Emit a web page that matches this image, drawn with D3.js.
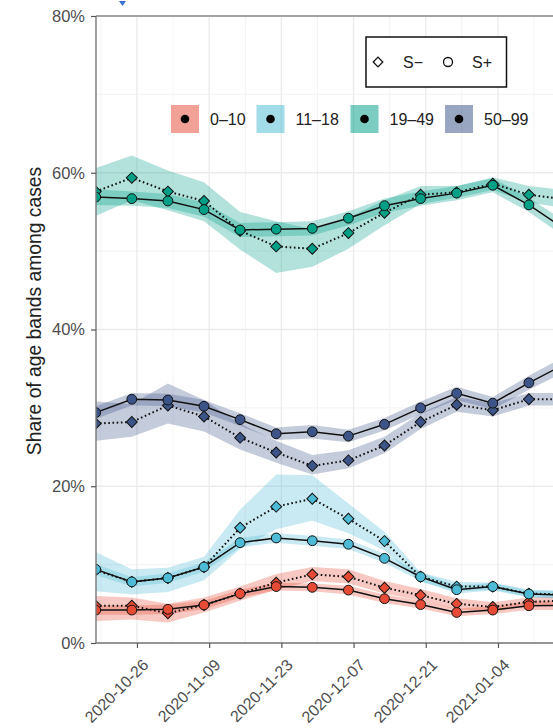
<!DOCTYPE html>
<html><head><meta charset="utf-8">
<script src="https://cdn.jsdelivr.net/npm/d3@7/dist/d3.min.js"></script>
<style>body{margin:0;background:#fff}svg{display:block;font-family:"Liberation Sans",Arial,Helvetica,sans-serif}</style>
</head><body><svg id="c" width="553" height="728"></svg>
<script>
const dates = ["2020-10-18","2020-10-25","2020-11-01","2020-11-08","2020-11-15","2020-11-22","2020-11-29","2020-12-06","2020-12-13","2020-12-20","2020-12-27","2021-01-03","2021-01-10","2021-01-17"];
const xTickLabels = ["2020-10-26","2020-11-09","2020-11-23","2020-12-07","2020-12-21","2021-01-04"];
const yTickValues = [0,20,40,60,80];
const ageBands = ["0–10","11–18","19–49","50–99"];
const bandColors = ["#E64B35","#4DBBD5","#00A087","#3C5488"];
const seroLabels = ["S−","S+"];

// 0-10
const red_sminus = [4.75,4.75,3.8,4.85,6.3,7.7,8.75,8.45,7.05,6.1,5.0,4.6,5.25,5.4];
const red_sminus_lo = [2.8,3.0,2.6,3.9,5.4,6.8,7.9,7.6,6.3,5.4,4.3,4.0,4.7,4.8];
const red_sminus_hi = [6.0,5.8,5.0,5.8,7.2,8.8,9.7,9.4,7.9,6.9,5.7,5.2,5.8,6.0];
const red_splus = [4.2,4.2,4.3,4.85,6.3,7.2,7.1,6.75,5.65,4.9,3.9,4.2,4.75,4.8];
const red_splus_lo = [3.6,3.6,3.7,4.3,5.8,6.7,6.6,6.2,5.1,4.4,3.4,3.7,4.2,4.2];
const red_splus_hi = [4.8,4.8,4.9,5.4,6.8,7.7,7.6,7.3,6.2,5.4,4.4,4.7,5.3,5.4];
// 11-18
const cyan_sminus = [9.3,7.8,8.3,9.7,14.7,17.4,18.4,15.85,13.0,8.45,7.2,7.2,6.3,6.2];
const cyan_sminus_lo = [6.6,6.2,6.5,8.0,12.0,14.5,15.6,14.0,11.8,7.8,6.6,6.8,5.9,5.7];
const cyan_sminus_hi = [11.6,9.4,9.6,11.0,17.0,21.5,21.4,17.8,14.2,9.0,7.8,7.7,6.8,6.7];
const cyan_splus = [9.4,7.8,8.3,9.7,12.8,13.4,13.05,12.6,10.8,8.45,6.8,7.2,6.25,6.1];
const cyan_splus_lo = [8.7,7.2,7.7,9.1,12.2,12.8,12.4,12.0,10.2,7.9,6.3,6.7,5.8,5.6];
const cyan_splus_hi = [10.1,8.4,8.9,10.3,13.4,14.0,13.7,13.2,11.4,9.0,7.3,7.7,6.7,6.6];
// 19-49
const teal_sminus = [57.6,59.35,57.6,56.4,52.6,50.6,50.3,52.3,54.9,57.2,57.5,58.6,57.2,56.6];
const teal_sminus_lo = [54.5,56.5,55.2,53.8,50.2,47.2,48.0,50.3,53.3,56.0,56.8,57.8,56.2,55.5];
const teal_sminus_hi = [60.6,62.2,60.3,58.8,55.0,53.8,52.8,54.3,56.5,58.3,58.3,59.4,58.3,57.8];
const teal_splus = [56.9,56.7,56.4,55.3,52.7,52.8,52.9,54.2,55.8,56.7,57.4,58.4,55.9,52.8];
const teal_splus_lo = [55.9,55.8,55.5,54.4,51.8,51.9,52.0,53.3,54.9,55.8,56.5,57.5,55.0,51.8];
const teal_splus_hi = [57.9,57.6,57.3,56.2,53.6,53.7,53.8,55.1,56.7,57.6,58.3,59.3,56.8,53.8];
// 50-99
const blue_sminus = [28.0,28.2,30.3,28.9,26.2,24.3,22.6,23.3,25.2,28.2,30.4,29.7,31.1,31.1];
const blue_sminus_lo = [25.8,26.3,28.0,27.0,24.7,23.0,21.5,22.3,24.2,27.3,29.5,28.9,30.3,30.3];
const blue_sminus_hi = [30.8,30.5,33.1,31.0,28.0,25.8,24.0,24.6,26.3,29.3,31.4,30.6,31.9,31.9];
const blue_splus = [29.4,31.1,31.0,30.2,28.5,26.7,26.95,26.4,27.9,30.0,31.85,30.6,33.2,35.6];
const blue_splus_lo = [28.6,30.3,30.2,29.4,27.7,25.9,26.1,25.6,27.1,29.2,31.0,29.8,32.3,34.6];
const blue_splus_hi = [30.2,31.9,31.8,31.0,29.3,27.5,27.8,27.2,28.7,30.8,32.7,31.4,34.1,36.6];

const groups = [
  {band:0, minus:[red_sminus,red_sminus_lo,red_sminus_hi], plus:[red_splus,red_splus_lo,red_splus_hi]},
  {band:1, minus:[cyan_sminus,cyan_sminus_lo,cyan_sminus_hi], plus:[cyan_splus,cyan_splus_lo,cyan_splus_hi]},
  {band:2, minus:[teal_sminus,teal_sminus_lo,teal_sminus_hi], plus:[teal_splus,teal_splus_lo,teal_splus_hi]},
  {band:3, minus:[blue_sminus,blue_sminus_lo,blue_sminus_hi], plus:[blue_splus,blue_splus_lo,blue_splus_hi]}
];

const parse = d3.utcParse("%Y-%m-%d");
const svg = d3.select("#c");
const L = 96, T = 16, B = 643, R = 565;
const x = d3.scaleUtc().domain([parse(dates[0]), parse(dates[dates.length-1])]).range([95.7, R]);
const y = d3.scaleLinear().domain([0,80]).range([B, T]);

// blue marker at top
svg.append("path").attr("d","M119,1 L126,1 L122.5,6 Z").attr("fill","#3d6fd9");

// grid
const g = svg.append("g");
const minorY = [10,30,50,70];
g.selectAll(".gyM").data(minorY).join("line").attr("x1",L).attr("x2",R).attr("y1",d=>y(d)).attr("y2",d=>y(d)).attr("stroke","#f0f0f0").attr("stroke-width",0.8);
g.selectAll(".gy").data(yTickValues).join("line").attr("x1",L).attr("x2",R).attr("y1",d=>y(d)).attr("y2",d=>y(d)).attr("stroke","#ebebeb").attr("stroke-width",1.3);
const tickDates = xTickLabels.map(parse);
const minorX = [];
for (let i=-1;i<tickDates.length;i++){ const base = i<0? d3.utcDay.offset(tickDates[0],-14):tickDates[i]; minorX.push(d3.utcDay.offset(base,7)); }
g.selectAll(".gxm").data(minorX).join("line").attr("x1",d=>x(d)).attr("x2",d=>x(d)).attr("y1",T).attr("y2",B).attr("stroke","#f0f0f0").attr("stroke-width",0.8);
g.selectAll(".gx").data(tickDates).join("line").attr("x1",d=>x(d)).attr("x2",d=>x(d)).attr("y1",T).attr("y2",B).attr("stroke","#ebebeb").attr("stroke-width",1.3);

// clip
svg.append("clipPath").attr("id","clip").append("rect").attr("x",L).attr("y",T).attr("width",R-L).attr("height",B-T);
const plot = svg.append("g").attr("clip-path","url(#clip)");

const area = (lo,hi)=>d3.area().x((d,i)=>x(parse(dates[i]))).y0((d,i)=>y(lo[i])).y1((d,i)=>y(hi[i]))(dates);
const line = (v)=>d3.line().x((d,i)=>x(parse(dates[i]))).y((d,i)=>y(v[i]))(dates);

groups.forEach(gr=>{
  const c = bandColors[gr.band];
  plot.append("path").attr("d",area(gr.minus[1],gr.minus[2])).attr("fill",c).attr("fill-opacity",0.3);
  plot.append("path").attr("d",area(gr.plus[1],gr.plus[2])).attr("fill",c).attr("fill-opacity",0.3);
});
groups.forEach(gr=>{
  const c = bandColors[gr.band];
  plot.append("path").attr("d",line(gr.minus[0])).attr("fill","none").attr("stroke","#111").attr("stroke-width",2).attr("stroke-dasharray","1.6,2.6");
  plot.append("path").attr("d",line(gr.plus[0])).attr("fill","none").attr("stroke","#111").attr("stroke-width",1.5);
  plot.selectAll(null).data(gr.minus[0]).join("path").attr("d",d3.symbol().type(d3.symbolSquare).size(60)())
    .attr("transform",(d,i)=>`translate(${x(parse(dates[i]))},${y(d)}) rotate(45)`).attr("fill",c).attr("stroke","#111").attr("stroke-width",1);
  plot.selectAll(null).data(gr.plus[0]).join("circle").attr("cx",(d,i)=>x(parse(dates[i]))).attr("cy",d=>y(d)).attr("r",4.9)
    .attr("fill",c).attr("stroke","#111").attr("stroke-width",1);
});

// panel border / axes
svg.append("line").attr("x1",L).attr("x2",553).attr("y1",T).attr("y2",T).attr("stroke","#8a8a8a").attr("stroke-width",1.4);
svg.append("line").attr("x1",L).attr("x2",L).attr("y1",T).attr("y2",B).attr("stroke","#777").attr("stroke-width",1.4);
svg.append("line").attr("x1",L).attr("x2",553).attr("y1",B).attr("y2",B).attr("stroke","#777").attr("stroke-width",1.4);

const FONT = "Liberation Sans, Arial, sans-serif";
// y axis
const ya = svg.append("g").attr("transform",`translate(${L},0)`).call(d3.axisLeft(y).tickValues(yTickValues).tickSize(5).tickPadding(6).tickFormat(d=>d+"%"));
ya.select(".domain").remove();
ya.selectAll("line").attr("stroke","#555").attr("stroke-width",1.2);
ya.selectAll("text").attr("fill","#4d4d4d").attr("font-size",16.5).attr("font-family",FONT);

// x axis
const xa = svg.append("g").attr("transform",`translate(0,${B})`).call(d3.axisBottom(x).tickValues(tickDates).tickSize(5).tickFormat(d3.utcFormat("%Y-%m-%d")));
xa.select(".domain").remove();
xa.selectAll("line").attr("stroke","#555").attr("stroke-width",1.2);
xa.selectAll("text").attr("fill","#4d4d4d").attr("font-size",16).attr("font-family",FONT)
  .attr("text-anchor","end").attr("dy",0).attr("y",0).attr("transform","translate(12,23) rotate(-45)");

// y title
svg.append("text").attr("transform","translate(41,311) rotate(-90)").attr("text-anchor","middle")
  .attr("font-size",19.3).attr("fill","#222").attr("font-family",FONT).text("Share of age bands among cases");

// serostatus legend
const lg = svg.append("g");
lg.append("rect").attr("x",366).attr("y",37).attr("width",140.5).attr("height",50).attr("fill","#fff").attr("stroke","#111").attr("stroke-width",1.5);
lg.append("path").attr("d",d3.symbol().type(d3.symbolSquare).size(46)()).attr("transform","translate(378,62) rotate(45)").attr("fill","none").attr("stroke","#111").attr("stroke-width",1.3);
lg.append("text").attr("x",403).attr("y",68).attr("font-size",16).attr("fill","#222").text(seroLabels[0]);
lg.append("circle").attr("cx",448).attr("cy",62).attr("r",4.5).attr("fill","none").attr("stroke","#111").attr("stroke-width",1.3);
lg.append("text").attr("x",472).attr("y",68).attr("font-size",16).attr("fill","#222").text(seroLabels[1]);

// age legend
const keyX = [171,256.5,350.5,445];
ageBands.forEach((b,i)=>{
  const k = svg.append("g");
  k.append("rect").attr("x",keyX[i]).attr("y",105).attr("width",28).attr("height",28).attr("fill",bandColors[i]).attr("fill-opacity",0.52);
  k.append("circle").attr("cx",keyX[i]+14).attr("cy",119).attr("r",4.3).attr("fill","#000");
  k.append("text").attr("x",keyX[i]+39).attr("y",125).attr("font-size",16).attr("fill","#222").text(b);
});
</script></body></html>
